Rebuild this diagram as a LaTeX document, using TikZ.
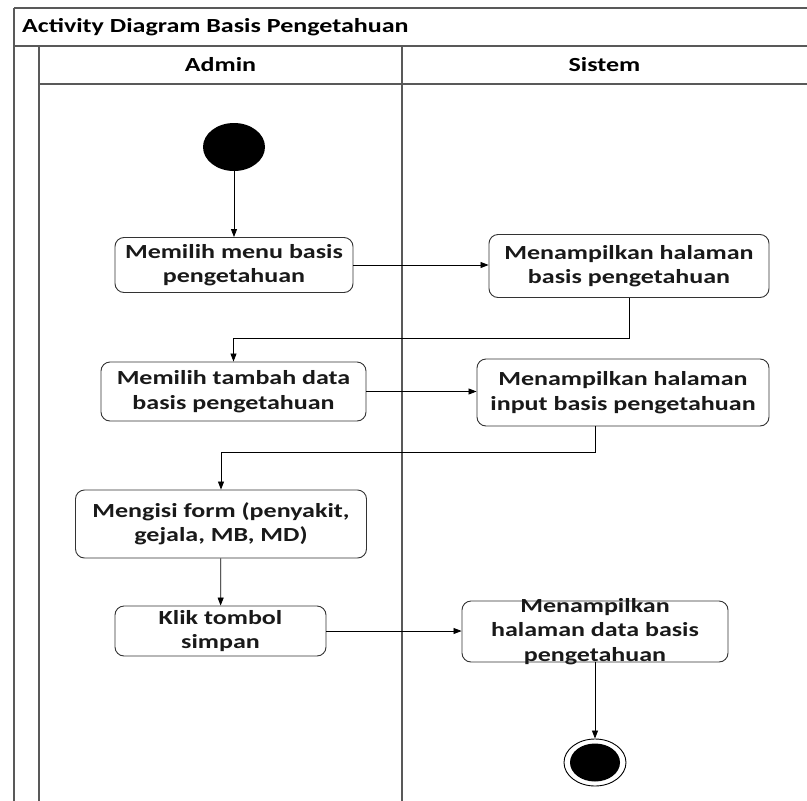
\documentclass[tikz,border=0pt]{standalone}
\usepackage{fontspec}
\setmainfont{Carlito}[FakeStretch=1.3]
\usetikzlibrary{shapes.geometric, arrows.meta, positioning}

\begin{document}
\begin{tikzpicture}[
        x=1pt, y=-1pt,
        font=\fontsize{20}{24.5}\selectfont\bfseries,
        lane/.style={draw=black!65, line width=1.3pt},
        activity/.style={rectangle, rounded corners=9pt, draw=black!80, line width=0.9pt, align=center, inner sep=2pt, text=black!90},
        initial/.style={ellipse, fill=black, minimum width=62pt, minimum height=48pt, inner sep=0pt},
        arrow/.style={-{Triangle[length=8pt, width=6pt]}, line width=0.8pt}
    ]
        \useasboundingbox (0,0) rectangle (807,801);

        % Swimlane
        \draw [lane] (14,8) -- (807,8);
        \draw [lane] (14,46) -- (807,46);
        \draw [lane] (39,84) -- (807,84);
        \draw [lane] (14,8) -- (14,801);
        \draw [lane] (39,46) -- (39,801);
        \draw [lane] (402,46) -- (402,801);

        \node (title) [anchor=west, inner sep=0pt] at (22,27) {Activity Diagram Basis Pengetahuan};
        \node (admin) at (220.5,65) {Admin};
        \node (sistem) at (604.5,65) {Sistem};

        % Aktivitas
        \node (start) [initial] at (234,147) {};
        \node (memilihMenu) [activity, minimum width=238pt, minimum height=55pt] at (234,265) {Memilih menu basis\\pengetahuan};
        \node (tampilBasis) [activity, minimum width=280pt, minimum height=63pt] at (629,266) {Menampilkan halaman\\basis pengetahuan};
        \node (tambahData) [activity, minimum width=265pt, minimum height=59pt] at (233.5,391.5) {Memilih tambah data\\basis pengetahuan};
        \node (tampilInput) [activity, minimum width=292pt, minimum height=67pt] at (623,392.5) {Menampilkan halaman\\input basis pengetahuan};
        \node (isiForm) [activity, minimum width=291pt, minimum height=68pt] at (221,524) {Mengisi form (penyakit,\\gejala, MB, MD)};
        \node (simpan) [activity, minimum width=211pt, minimum height=50pt] at (220.5,631) {Klik tombol\\simpan};
        \node (tampilData) [activity, minimum width=266pt, minimum height=61pt,
            label={[align=center, text=black!90]center:Menampilkan\\halaman data basis\\pengetahuan}] at (595,631.5) {};
        \node (final) [ellipse, draw, line width=0.9pt, minimum width=62pt, minimum height=47pt, inner sep=0pt] at (595,762.5) {};
        \node (finalDot) [ellipse, fill=black, minimum width=50pt, minimum height=38pt, inner sep=0pt] at (final) {};

        % Alur
        \draw [arrow] (start) -- (memilihMenu);
        \draw [arrow] (memilihMenu.east) -- (memilihMenu.east -| tampilBasis.west);
        \draw [arrow] (tampilBasis.south) -- ++(0,40) -| (tambahData.north);
        \draw [arrow] (tambahData.east) -- (tambahData.east -| tampilInput.west);
        \coordinate (turnInput) at (595,452);
        \draw [arrow] (tampilInput.south -| turnInput) -- (turnInput) -| (isiForm.north);
        \draw [arrow] (isiForm) -- (simpan);
        \draw [arrow] (simpan.east) -- (simpan.east -| tampilData.west);
        \draw [arrow] (tampilData) -- (final);
    \end{tikzpicture}
\end{document}
